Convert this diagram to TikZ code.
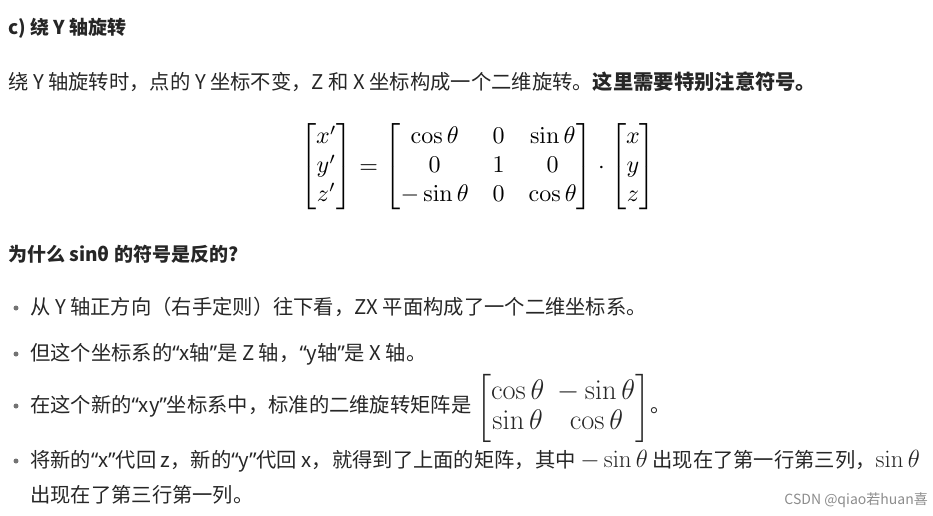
\documentclass[tikz,border=0pt]{standalone}
\usepackage{amsmath}
\usepackage{graphicx}
\usepackage[no-math]{fontspec}
\setmainfont{Noto Sans CJK SC}
\newfontfamily\latinq{Noto Sans}
\newcommand{\lqq}{{\latinq “}}
\newcommand{\rqq}{{\latinq ”}}
\newcommand{\bm}[2]{\scalebox{#1}{$#2$}}
\begin{document}
\begin{tikzpicture}[x=1pt,y=-1pt,
  txt/.style={anchor=base west,inner sep=0pt,font=\fontsize{20.3}{22}\selectfont,text=black!85},
  bul/.style={fill=black!55,draw=none,circle,inner sep=0pt,minimum size=5pt}]
\useasboundingbox (0,0) rectangle (933,515);
\node[txt,font=\fontsize{19}{22}\selectfont\bfseries] (t1) at (8,34) {c) 绕 Y 轴旋转};
\node[txt] (t2) at (8,89) {绕 Y 轴旋转时，点的 Y 坐标不变，Z 和 X 坐标构成一个二维旋转。\textbf{这里需要特别注意符号。}};
\node[inner sep=0pt] (eq) at (478,167) {\bm{2.4}{\begin{bmatrix}x'\\y'\\z'\end{bmatrix}=\begin{bmatrix}\cos\theta&0&\sin\theta\\0&1&0\\-\sin\theta&0&\cos\theta\end{bmatrix}\cdot\begin{bmatrix}x\\y\\z\end{bmatrix}}};
\node[txt,font=\fontsize{19}{22}\selectfont\bfseries] (t3) at (8,261) {为什么 sinθ 的符号是反的?};
\node[bul] (b1) at (16,308) {};
\node[txt] (l1) at (30,314) {从 Y 轴正方向（右手定则）往下看，ZX 平面构成了一个二维坐标系。};
\node[bul] (b2) at (16,354) {};
\node[txt] (l2) at (30,360) {但这个坐标系的\lqq x轴\rqq 是 Z 轴，\lqq y轴\rqq 是 X 轴。};
\node[bul] (b3) at (16,406) {};
\node[txt] (l3) at (30,412) {在这个新的\lqq xy\rqq 坐标系中，标准的二维旋转矩阵是 \raisebox{-0.35ex}{\bm{1.37}{\begin{bmatrix}\cos\theta&-\sin\theta\\\sin\theta&\cos\theta\end{bmatrix}}}。};
\node[bul] (b4) at (16,461) {};
\node[txt] (l4) at (30,467) {将新的\lqq x\rqq 代回 z，新的\lqq y\rqq 代回 x，就得到了上面的矩阵，其中 \bm{1.2}{-\sin\theta} 出现在了第一行第三列，\bm{1.2}{\sin\theta}};
\node[txt] (l5) at (30,502) {出现在了第三行第一列。};
\node[anchor=base east,inner sep=0pt,font=\fontsize{14}{15}\selectfont,text=black!45] (wm) at (928,504) {CSDN @qiao若huan喜};
\end{tikzpicture}
\end{document}
